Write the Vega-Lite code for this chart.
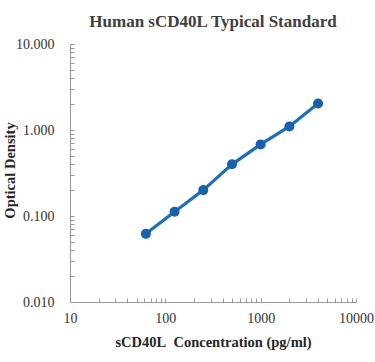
{
  "$schema": "https://vega.github.io/schema/vega-lite/v6.json",
  "autosize": "none",
  "width": 286,
  "height": 258,
  "padding": {"left": 70, "top": 44, "right": 19, "bottom": 60},
  "background": "white",
  "config": {"view": {"stroke": null}},
  "title": {
    "text": "Human sCD40L Typical Standard",
    "font": "Liberation Serif",
    "fontSize": 17,
    "fontWeight": "bold",
    "color": "#404040",
    "anchor": "middle",
    "frame": "group",
    "offset": 6
  },
  "data": {
    "values": [
      {"conc": 62.5, "od": 0.062},
      {"conc": 125, "od": 0.112},
      {"conc": 250, "od": 0.2},
      {"conc": 500, "od": 0.399},
      {"conc": 1000, "od": 0.68},
      {"conc": 2000, "od": 1.1},
      {"conc": 4000, "od": 2.03}
    ]
  },
  "encoding": {
    "x": {
      "field": "conc",
      "type": "quantitative",
      "scale": {"type": "log", "domain": [10, 10000], "nice": false},
      "axis": {
        "title": "sCD40L\u00a0 Concentration (pg/ml)",
        "titleFont": "Liberation Serif",
        "titleFontSize": 14.5,
        "titleFontWeight": "bold",
        "titleColor": "#262626",
        "titlePadding": 10,
        "values": [10, 20, 30, 40, 50, 60, 70, 80, 90, 100, 200, 300, 400, 500, 600, 700, 800, 900, 1000, 2000, 3000, 4000, 5000, 6000, 7000, 8000, 9000, 10000],
        "labelExpr": "indexof(['10','100','1000','10000'], format(datum.value, 'd')) >= 0 ? format(datum.value, 'd') : ''",
        "labelFont": "Liberation Serif",
        "labelFontSize": 14,
        "labelColor": "#333333",
        "labelPadding": 13,
        "labelOverlap": false,
        "labelFlush": false,
        "tickSize": -4,
        "tickColor": "#999999",
        "domainColor": "#999999",
        "grid": false
      }
    },
    "y": {
      "field": "od",
      "type": "quantitative",
      "scale": {"type": "log", "domain": [0.01, 10], "nice": false},
      "axis": {
        "title": "Optical Density",
        "titleFont": "Liberation Serif",
        "titleFontSize": 14.5,
        "titleFontWeight": "bold",
        "titleColor": "#262626",
        "titleAngle": -90,
        "titleAlign": "center",
        "titleBaseline": "middle",
        "titleX": -60,
        "titleY": 126,
        "values": [0.01, 0.02, 0.03, 0.04, 0.05, 0.06, 0.07, 0.08, 0.09, 0.1, 0.2, 0.3, 0.4, 0.5, 0.6, 0.7, 0.8, 0.9, 1, 2, 3, 4, 5, 6, 7, 8, 9, 10],
        "labelExpr": "indexof(['0.010','0.100','1.000','10.000'], format(datum.value, '.3f')) >= 0 ? format(datum.value, '.3f') : ''",
        "labelFont": "Liberation Serif",
        "labelFontSize": 14,
        "labelColor": "#333333",
        "labelPadding": 20,
        "labelOverlap": false,
        "labelFlush": false,
        "tickSize": -4,
        "tickColor": "#999999",
        "domainColor": "#999999",
        "grid": false
      }
    }
  },
  "layer": [
    {
      "mark": {"type": "line", "color": "#1a70c0", "strokeWidth": 3.2}
    },
    {
      "mark": {"type": "point", "filled": true, "color": "#1662ad", "size": 100, "opacity": 1}
    }
  ]
}
